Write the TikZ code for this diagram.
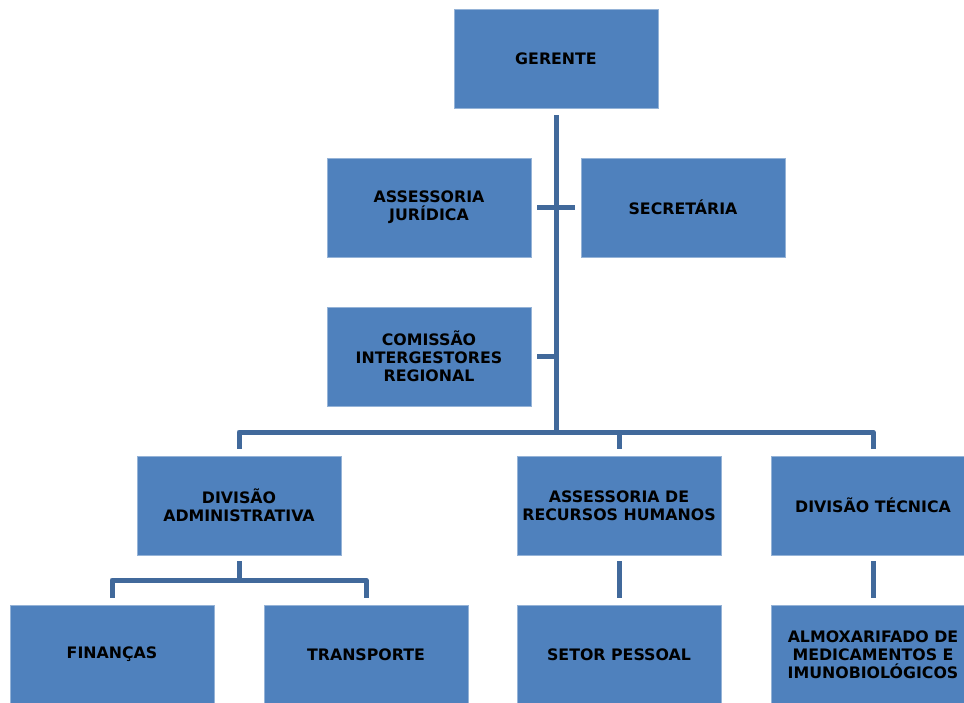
\documentclass[tikz,border=0pt]{standalone}
\usepackage{fontspec}
\setmainfont{DejaVu Sans}
\usetikzlibrary{calc}
\definecolor{boxblue}{HTML}{4F81BD}
\definecolor{linkblue}{HTML}{41699B}
\tikzset{
  unit/.style={rectangle, fill=boxblue, draw=boxblue!60!white, line width=0.8pt,
    minimum width=204pt, minimum height=99pt, inner sep=2pt, align=center,
    font=\fontsize{15.8}{18}\selectfont\bfseries, text=black},
  conn/.style={draw=linkblue, line width=5pt, line join=round}
}
\begin{document}
\begin{tikzpicture}[x=1pt,y=1pt]
\useasboundingbox (0,0) rectangle (964,-702);
\node[unit] (ger) at (556,-58.5) {GERENTE};
\node[unit] (jur) at (429,-207.5) {ASSESSORIA\\JURÍDICA};
\node[unit] (sec) at (683,-207.5) {SECRETÁRIA};
\node[unit] (com) at (429,-356.5) {COMISSÃO\\INTERGESTORES\\REGIONAL};
\node[unit] (dadm) at (239,-505.5) {DIVISÃO\\ADMINISTRATIVA};
\node[unit] (rh) at (619,-505.5) {ASSESSORIA DE\\RECURSOS HUMANOS};
\node[unit] (tec) at (873,-505.5) {DIVISÃO TÉCNICA};
\node[unit] (fin) at (112,-654.5) {FINANÇAS};
\node[unit] (tra) at (366,-654.5) {TRANSPORTE};
\node[unit] (set) at (619,-654.5) {SETOR PESSOAL};
\node[unit] (alm) at (873,-654.5) {ALMOXARIFADO DE\\MEDICAMENTOS E\\IMUNOBIOLÓGICOS};
\coordinate (bus) at (0,-432);
\coordinate (sub) at (0,-580);
% main trunk
\draw[conn] ([yshift=-7]ger.south) -- (ger.south |- bus);
\draw[conn] ([xshift=6]jur.east) -- ([xshift=-6]sec.west);
\draw[conn] ([xshift=6]com.east) -- (com.east -| ger.south);
\draw[conn] ([yshift=7]dadm.north) -- (dadm.north |- bus) -- (tec.north |- bus) -- ([yshift=7]tec.north);
\draw[conn] ([yshift=7]rh.north) -- (rh.north |- bus);
% lower branches
\draw[conn] ([yshift=-6]dadm.south) -- (dadm.south |- sub);
\draw[conn] ([yshift=7]fin.north) -- (fin.north |- sub) -- (tra.north |- sub) -- ([yshift=7]tra.north);
\draw[conn] ([yshift=-6]rh.south) -- ([yshift=7]set.north);
\draw[conn] ([yshift=-6]tec.south) -- ([yshift=7]alm.north);
\end{tikzpicture}
\end{document}
